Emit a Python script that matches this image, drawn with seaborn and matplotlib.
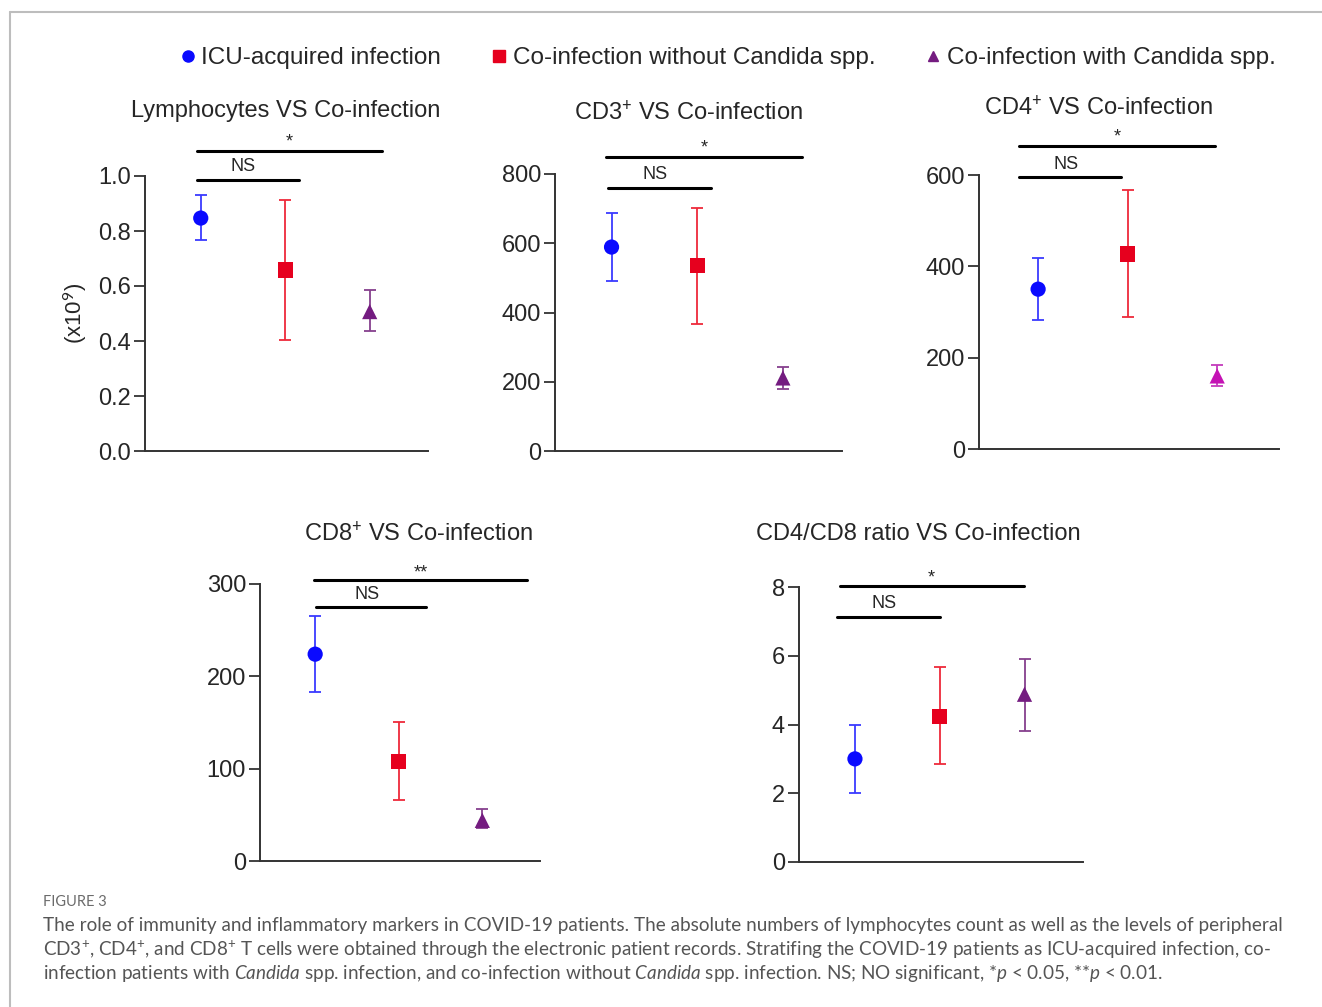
import numpy as np
import pandas as pd
import matplotlib.pyplot as plt
import seaborn as sns
from matplotlib.lines import Line2D

# group names and colours
groups = ["ICU-acquired infection", "Co-infection without Candida spp.", "Co-infection with Candida spp."]
marker_colors = ["#0a0aff", "#e6001e", "#741c80"]
bar_colors = ["#3a3aff", "#ee2a3a", "#86408e"]

# values (mean, lower and upper end of the error bar)
lymph_mean = [0.847, 0.658, 0.507]
lymph_low = [0.767, 0.404, 0.436]
lymph_high = [0.930, 0.913, 0.585]

cd3_mean = [589, 535, 211]
cd3_low = [491, 367, 179]
cd3_high = [688, 702, 243]

cd4_mean = [350, 427, 160]
cd4_low = [282, 289, 138]
cd4_high = [418, 567, 184]

cd8_mean = [224, 108, 44]
cd8_low = [183, 66, 36]
cd8_high = [265, 151, 56]

ratio_mean = [3.0, 4.24, 4.88]
ratio_low = [2.0, 2.85, 3.81]
ratio_high = [3.98, 5.67, 5.90]

sig_labels = [["NS", "*"], ["NS", "*"], ["NS", "*"], ["NS", "**"], ["NS", "*"]]

W, H = 1322, 1007
sns.set_style("ticks")
plt.rcParams["font.family"] = ["Liberation Sans", "DejaVu Sans"]
plt.rcParams["mathtext.fontset"] = "custom"
plt.rcParams["mathtext.rm"] = "Lato"
plt.rcParams["mathtext.it"] = "Lato:italic"

fig = plt.figure(figsize=(W / 100, H / 100), dpi=100)


def px_rect(x0, x1, ytop, ybot):
    return [x0 / W, 1 - ybot / H, (x1 - x0) / W, (ybot - ytop) / H]


panels = [
    dict(title="Lymphocytes VS Co-infection", mean=lymph_mean, low=lymph_low, high=lymph_high,
         rect=(145, 428, 176, 451), ymax=1.0, ticks=np.arange(0, 1.01, 0.2), fmt="{:.1f}",
         title_xy=(286, 111), ns=(-0.05, 1.16, 0.985, 1.036), star=(-0.05, 2.15, 1.09, 1.125)),
    dict(title="CD3$^{+}$ VS Co-infection", mean=cd3_mean, low=cd3_low, high=cd3_high,
         rect=(555, 842, 174, 451), ymax=800, ticks=range(0, 801, 200), fmt="{:d}",
         title_xy=(688, 113), ns=(-0.04, 1.16, 760, 798), star=(-0.06, 2.22, 850, 875)),
    dict(title="CD4$^{+}$ VS Co-infection", mean=cd4_mean, low=cd4_low, high=cd4_high,
         rect=(979, 1279, 175, 449), ymax=600, ticks=range(0, 601, 200), fmt="{:d}",
         title_xy=(1098, 108), ns=(-0.21, 0.93, 596, 622), star=(-0.21, 1.97, 663, 683),
         tri_color=("#c412b4", "#c43cbc")),
    dict(title="CD8$^{+}$ VS Co-infection", mean=cd8_mean, low=cd8_low, high=cd8_high,
         rect=(260, 540, 584, 861), ymax=300, ticks=range(0, 301, 100), fmt="{:d}",
         title_xy=(418, 534), ns=(0.01, 1.33, 275, 289), star=(-0.01, 2.53, 304, 312)),
    dict(title="CD4/CD8 ratio VS Co-infection", mean=ratio_mean, low=ratio_low, high=ratio_high,
         rect=(799, 1083, 587, 862), ymax=8, ticks=range(0, 9, 2), fmt="{:d}",
         title_xy=(918, 534), ns=(-0.21, 1.0, 7.12, 7.53), star=(-0.18, 1.99, 8.02, 8.25)),
]

for i, p in enumerate(panels):
    ax = fig.add_axes(px_rect(*p["rect"]))
    df = pd.DataFrame({"pos": [0, 1, 2], "mean": p["mean"], "low": p["low"],
                       "high": p["high"], "group": groups})
    mcol = list(marker_colors)
    bcol = list(bar_colors)
    if "tri_color" in p:
        mcol[2], bcol[2] = p["tri_color"]
    for j, row in df.iterrows():
        ax.errorbar(row["pos"], row["mean"],
                    yerr=[[row["mean"] - row["low"]], [row["high"] - row["mean"]]],
                    fmt="none", ecolor=bcol[j], elinewidth=1.3, capsize=4.5, capthick=1.3, zorder=2)
    sns.scatterplot(data=df, x="pos", y="mean", hue="group", style="group",
                    palette=dict(zip(groups, mcol)),
                    markers=dict(zip(groups, ["o", "s", "^"])),
                    s=120, edgecolor="none", legend=False, ax=ax, zorder=3)
    ax.set_xlim(-0.66, 2.69)
    ax.set_ylim(0, p["ymax"])
    ax.set_yticks(list(p["ticks"]))
    ax.set_yticklabels([p["fmt"].format(t if p["fmt"] != "{:d}" else int(t)) for t in p["ticks"]])
    ax.tick_params(axis="x", bottom=False, labelbottom=False)
    ax.tick_params(axis="y", length=8, width=1.3, color="#333333", labelsize=17, pad=2)
    ax.set_xlabel("")
    ax.set_ylabel("")
    for s in ["top", "right"]:
        ax.spines[s].set_visible(False)
    for s in ["left", "bottom"]:
        ax.spines[s].set_linewidth(1.4)
        ax.spines[s].set_color("#333333")

    # significance lines
    x0, x1, yl, yt = p["ns"]
    ax.plot([x0, x1], [yl, yl], color="black", lw=2.2, clip_on=False)
    ax.text((x0 + x1) / 2 - 0.05, yt, sig_labels[i][0], ha="center", va="center", fontsize=13)
    x0, x1, yl, yt = p["star"]
    ax.plot([x0, x1], [yl, yl], color="black", lw=2.2, clip_on=False)
    ax.text((x0 + x1) / 2, yt, sig_labels[i][1], ha="center", va="center", fontsize=13)

    tx, ty = p["title_xy"]
    fig.text(tx / W, 1 - ty / H, p["title"], ha="center", va="center", fontsize=17,
             family=["Liberation Sans", "DejaVu Sans"])

    if i == 0:
        ax.set_ylabel("(x10$^{9}$)", fontsize=16, labelpad=6,
                      fontfamily=["Liberation Sans", "DejaVu Sans"])

# shared legend on top
handles = [Line2D([], [], ls="none", marker=m, color=c, markersize=s)
           for m, c, s in zip(["o", "s", "^"], marker_colors, [8, 8, 7])]
fig.legend(handles, groups, loc="center", bbox_to_anchor=(728 / W, 1 - 58 / H), ncol=3,
           frameon=False, fontsize=17.5, handlelength=0.6, handletextpad=0.25,
           columnspacing=2.1)

# frame of the figure page
fig.add_artist(Line2D([10 / W, 1], [1 - 12 / H, 1 - 12 / H], color="#bdbdbd", lw=1.5))
fig.add_artist(Line2D([10 / W, 10 / W], [0, 1 - 12 / H], color="#bdbdbd", lw=1.5))

# caption
fig.text(43 / W, 1 - 902 / H, "FIGURE 3", fontsize=10.5, color="#6b6b6b", family="Lato",
         va="center")
caption = [
    "The role of immunity and inflammatory markers in COVID-19 patients. The absolute numbers of lymphocytes count as well as the levels of peripheral",
    "CD3$^{+}$, CD4$^{+}$, and CD8$^{+}$ T cells were obtained through the electronic patient records. Stratifing the COVID-19 patients as ICU-acquired infection, co-",
    "infection patients with $\\mathit{Candida}$ spp. infection, and co-infection without $\\mathit{Candida}$ spp. infection. NS; NO significant, *$\\mathit{p}$ < 0.05, **$\\mathit{p}$ < 0.01.",
]
for k, line in enumerate(caption):
    fig.text(43 / W, 1 - (926 + 24 * k) / H, line, fontsize=13.6, color="#555555",
             family="Lato", va="center")

fig.savefig("out.png", dpi=100, facecolor="white")
